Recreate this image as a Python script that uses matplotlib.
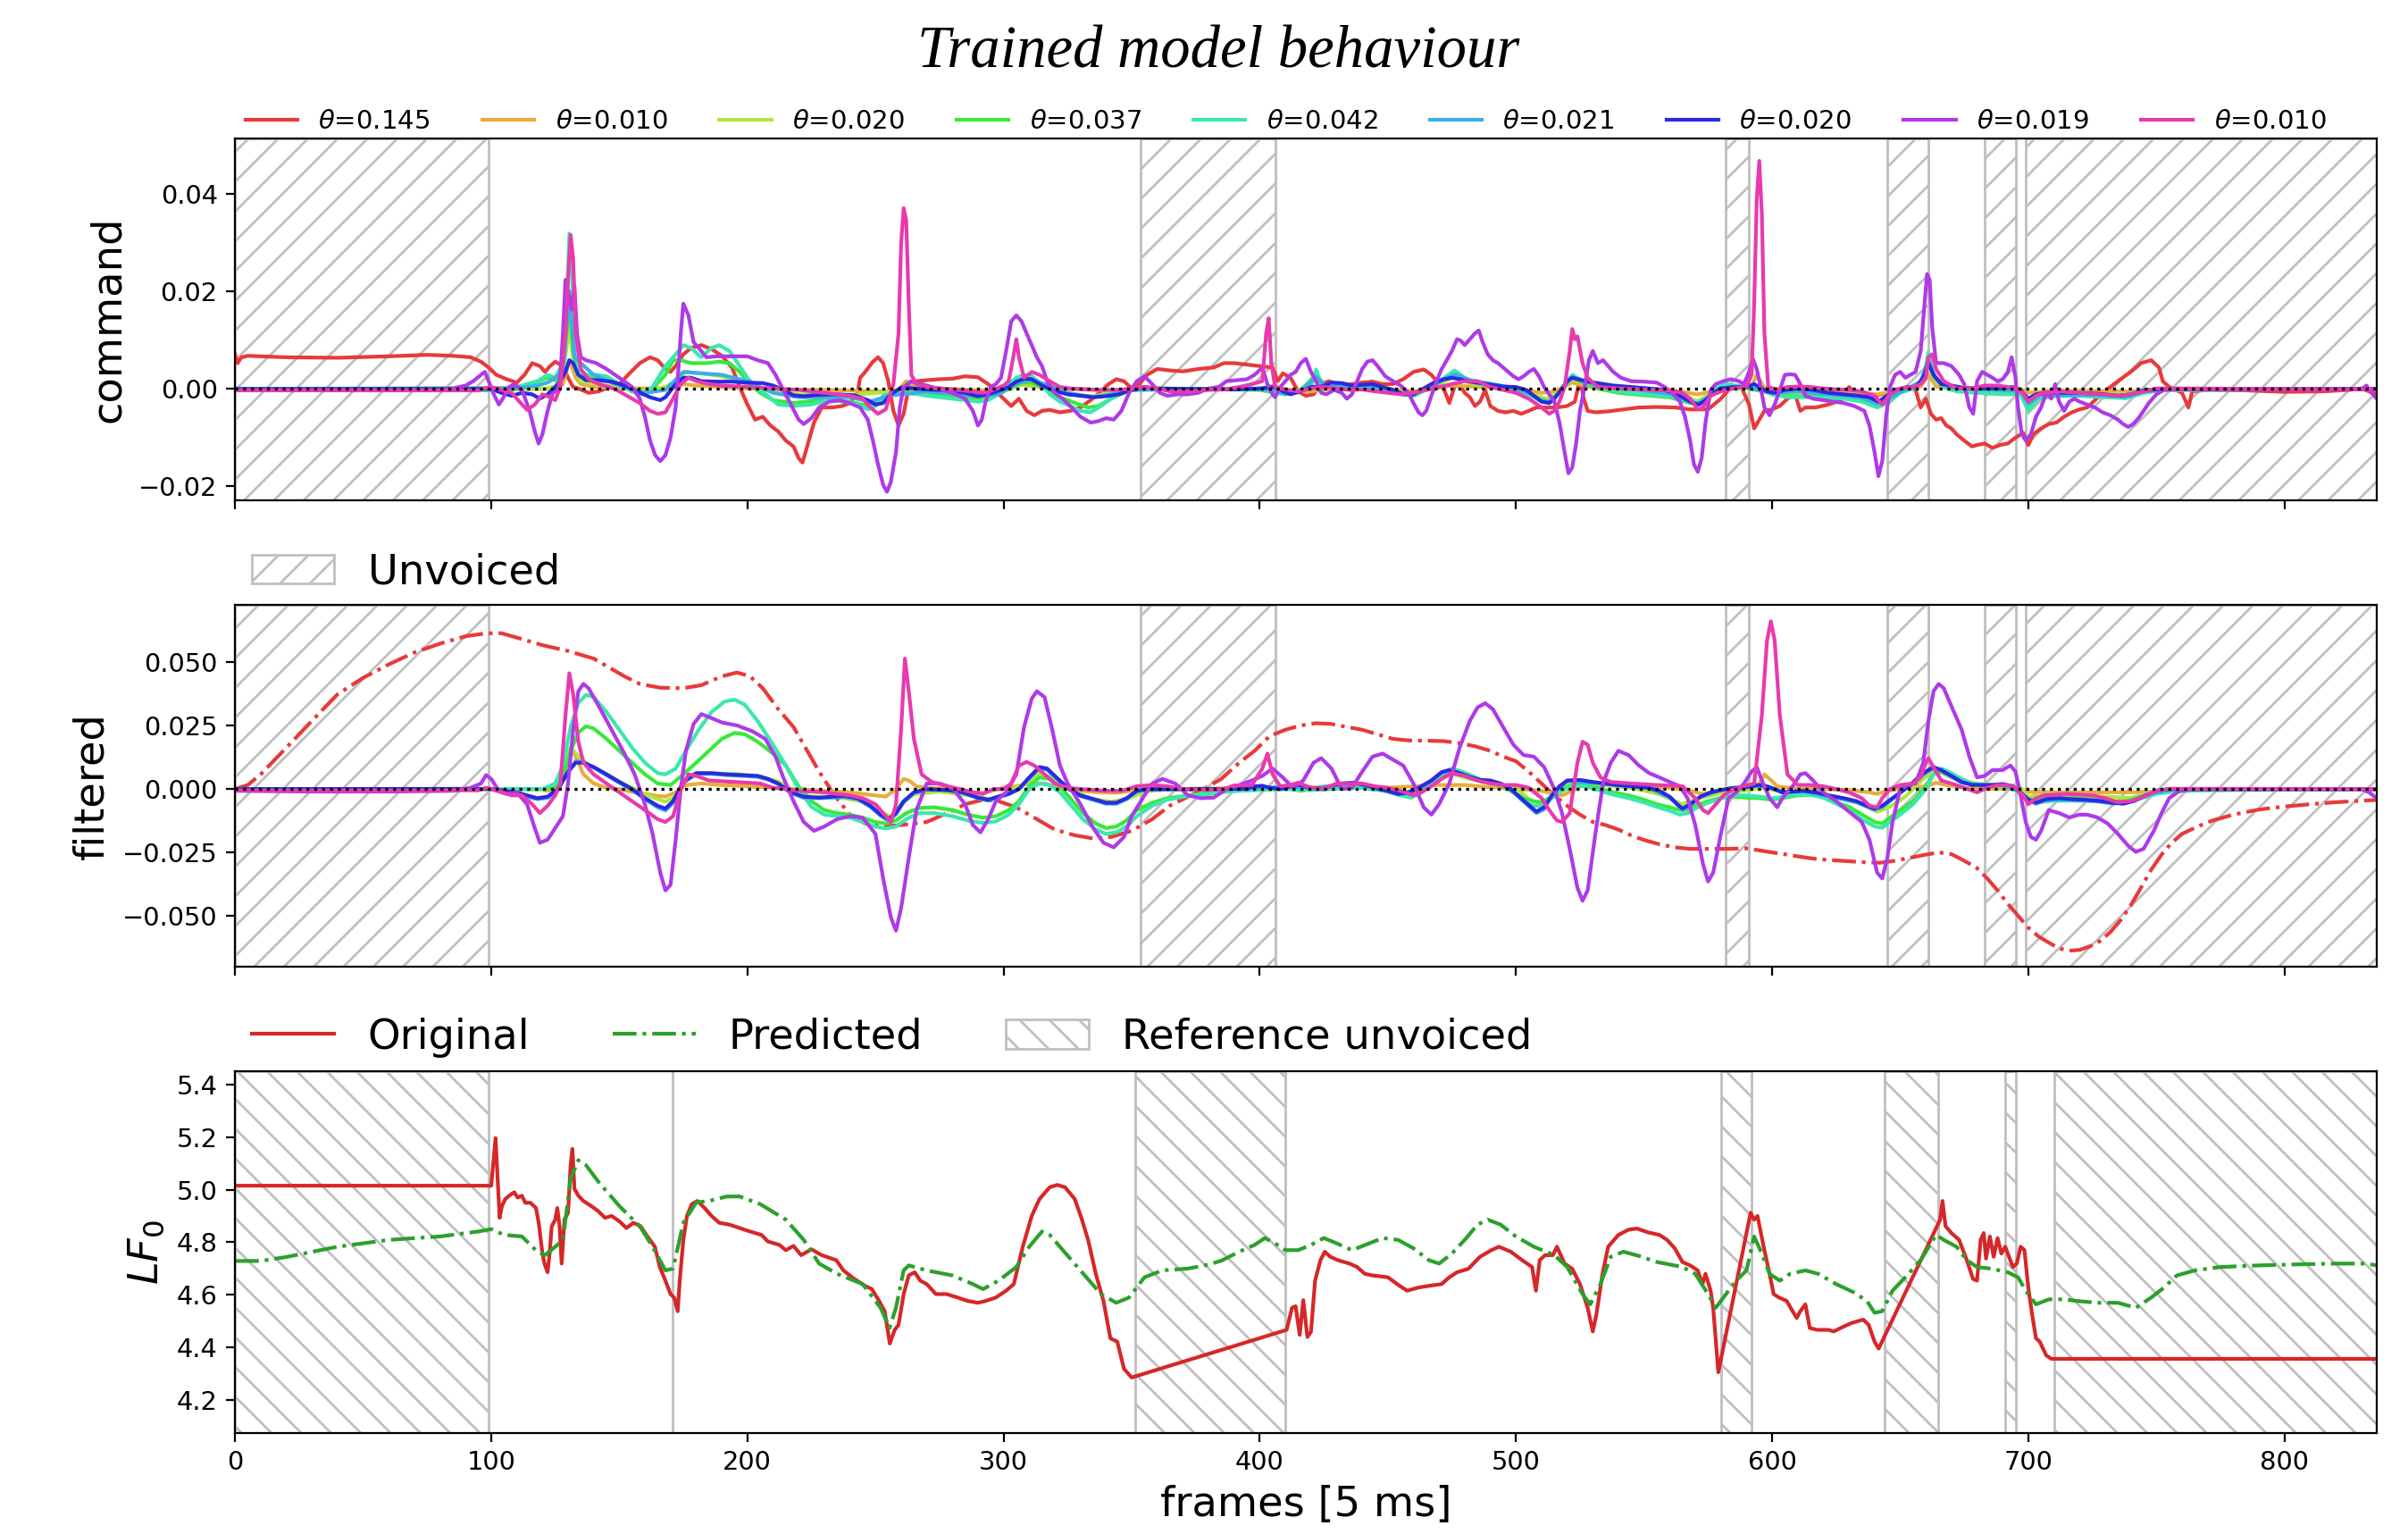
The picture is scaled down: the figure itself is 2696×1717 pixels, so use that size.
import matplotlib
matplotlib.use("Agg")
import matplotlib.pyplot as plt

# Configuration
FRAMES_MAX = 836
THETAS = ["0.145", "0.010", "0.020", "0.037", "0.042", "0.021", "0.020", "0.019", "0.010"]
COLORS = ["#e83a3a", "#e8ae3a", "#aee83a", "#3ae83a", "#3ae8ae",
          "#3aaee8", "#2a2ae0", "#ae3ae8", "#e83aae"]
HATCH_GRAY = "#bfbfbf"

# unvoiced regions (frames)
unvoiced_model = [(0, 99), (353.5, 406), (582, 591), (645, 661), (683, 695), (699, 836)]
unvoiced_ref = [(0, 99), (170.8, 170.85), (351.5, 410), (580, 592), (644, 665), (691, 695), (710, 836)]

# ---- command signals, (frame, value) ----
cmd_red = [(0, 0.0071), (1, 0.0053), (2.5, 0.0065), (5, 0.0068), (20, 0.0065), (40, 0.0064), (60, 0.0067),
           (75, 0.0070), (85, 0.0068), (92, 0.0065), (96, 0.0056), (99, 0.0044), (102, 0.0029), (106, 0.0020),
           (110, 0.0013), (113, 0.0029), (116, 0.0053), (119, 0.0047), (121, 0.0035), (123, 0.0047), (125, 0.0056),
           (128, 0.0047), (130, 0.0023), (132, 0.0004), (134, 0.0001), (138, -0.0008), (142, -0.0005), (146, 0.0004),
           (150, 0.0010), (154, 0.0032), (158, 0.0053), (162, 0.0065), (165, 0.0059), (168, 0.0041), (170, 0.0035),
           (172, 0.0047), (175, 0.0071), (178, 0.0084), (182, 0.0090), (186, 0.0082), (190, 0.0068), (194, 0.0044),
           (197, 0.0004), (200, -0.0032), (203, -0.0063), (206, -0.0057), (209, -0.0075), (212, -0.0087),
           (215, -0.0106), (218, -0.0118), (220, -0.0142), (221.5, -0.0151), (223, -0.0124), (226, -0.0069),
           (229, -0.0038), (233, -0.0038), (237, -0.0035), (240, -0.0029), (243, -0.0008), (244, 0.0023),
           (246, 0.0035), (249, 0.0056), (251, 0.0065), (253, 0.0053), (255, 0.0016), (257, -0.0045),
           (259, -0.0075), (261, -0.0051), (263, 0.0004), (266, 0.0016), (270, 0.0018), (275, 0.0020),
           (280, 0.0021), (285, 0.0026), (290, 0.0024), (294, 0.0010), (297, -0.0005), (300, -0.0020),
           (303, -0.0035), (306, -0.0020), (309, -0.0045), (312, -0.0054), (315, -0.0045), (318, -0.0043),
           (322, -0.0048), (326, -0.0045), (330, -0.0038), (334, -0.0023), (338, -0.0005), (341, 0.0010),
           (344, 0.0020), (347, 0.0016), (350, 0.0001), (353, 0.0010), (356, 0.0029), (360, 0.0041),
           (365, 0.0038), (370, 0.0036), (376, 0.0041), (382, 0.0044), (386, 0.0053), (390, 0.0053),
           (395, 0.0050), (400, 0.0047), (405, 0.0044), (407, 0.0016), (409, 0.0032), (412, 0.0023),
           (415, -0.0005), (418, -0.0014), (421, -0.0011), (424, 0.0010), (427, 0.0016), (430, 0.0010),
           (433, 0.0007), (436, 0.0010), (440, 0.0013), (444, 0.0015), (448, 0.0010), (452, 0.0010),
           (456, 0.0020), (460, 0.0035), (464, 0.0040), (467, 0.0029), (470, 0.0010), (472, -0.0002),
           (474, -0.0029), (476, 0.0004), (478, 0.0010), (480, -0.0008), (482, -0.0017), (484, -0.0035),
           (486, -0.0026), (488, -0.0002), (490, -0.0035), (493, -0.0045), (496, -0.0048), (499, -0.0045),
           (502, -0.0051), (505, -0.0045), (508, -0.0038), (516, -0.0038), (520, -0.0035), (523, -0.0026),
           (525, 0.0020), (526.5, -0.0020), (528, -0.0045), (531, -0.0048), (536, -0.0046), (542, -0.0042),
           (548, -0.0038), (555, -0.0037), (562, -0.0038), (568, -0.0042), (575, -0.0042), (580, -0.0020),
           (584, 0.0004), (588, 0.0004), (591, -0.0032), (593, -0.0081), (595, -0.0063), (597, -0.0045),
           (600, -0.0042), (603, -0.0035), (606, -0.0020), (609, -0.0011), (611, -0.0045), (613, -0.0038),
           (617, -0.0038), (622, -0.0032), (627, -0.0023), (630, 0.0004), (633, -0.0011), (636, -0.0008),
           (640, -0.0014), (645, -0.0008), (650, -0.0005), (653, 0.0004), (656, -0.0002), (658, -0.0038),
           (660, -0.0020), (662, -0.0051), (664, -0.0063), (666, -0.0060), (668, -0.0075), (670, -0.0081),
           (672, -0.0093), (675, -0.0106), (678, -0.0118), (680, -0.0115), (683, -0.0112), (686, -0.0121),
           (689, -0.0115), (692, -0.0112), (695, -0.0100), (698, -0.0090), (700, -0.0115), (702, -0.0093),
           (705, -0.0081), (708, -0.0072), (711, -0.0069), (714, -0.0057), (717, -0.0048), (720, -0.0042),
           (723, -0.0038), (726, -0.0023), (729, -0.0008), (732, 0.0004), (736, 0.0020), (740, 0.0035),
           (744, 0.0053), (748, 0.0059), (751, 0.0044), (752.5, 0.0016), (755, 0.0004), (760, -0.0008),
           (762.5, -0.0038), (764, -0.0005), (770, -0.0002), (785, -0.0003), (800, -0.0006), (815, -0.0005),
           (825, -0.0002), (830, 0.0001), (833, -0.0005), (836, -0.0011)]

cmd_orange = [(0, 0), (125, 0), (128, 0.0010), (130.5, 0.0059), (133, 0.0023), (135, 0.0010), (140, 0.0004),
              (150, 0.0002), (160, 0.0001), (170, 0.0002), (175, 0.0010), (180, 0.0007), (190, 0.0004),
              (200, 0.0001), (215, -0.0001), (230, -0.0002), (245, -0.0004), (255, -0.0005), (259, -0.0002),
              (262, 0.0016), (265, 0.0005), (275, 0.0001), (292, -0.0003), (300, -0.0001), (305, 0.0010),
              (310, 0.0007), (320, 0.0001), (340, -0.0003), (360, -0.0001), (400, 0), (405, 0.0007),
              (410, -0.0003), (420, -0.0005), (430, 0.0002), (445, 0.0003), (460, -0.0005), (475, 0.0007),
              (490, 0.0003), (500, 0), (510, -0.0008), (515, -0.0005), (522, 0.0013), (530, 0.0003),
              (560, -0.0002), (571, -0.0011), (580, -0.0002), (592, 0.0005), (594, 0.0029), (597, 0.0002),
              (610, -0.0002), (641, -0.0011), (650, -0.0003), (658, 0.0005), (661, 0.0029), (664, 0.0005),
              (680, 0.0001), (697, 0), (700, -0.0008), (710, -0.0003), (740, -0.0005), (750, -0.0001), (836, 0)]

cmd_lime = [(0, 0), (120, 0), (125, 0.0005), (128, 0.0029), (130.5, 0.0126), (132.5, 0.0041), (135, 0.0016),
            (145, 0.0007), (160, -0.0004), (168, 0.0004), (172, 0.0016), (176, 0.0035), (182, 0.0032),
            (190, 0.0026), (200, 0.0010), (210, -0.0005), (220, -0.0011), (240, -0.0013), (250, -0.0008),
            (260, -0.0004), (280, -0.0008), (292, -0.0011), (300, -0.0005), (306, 0.0007), (310, 0.0010),
            (316, 0.0004), (326, -0.0011), (335, -0.0015), (342, -0.0008), (350, -0.0001), (386, 0), (400, 0),
            (408, -0.0008), (415, -0.0004), (422, 0.0020), (426, 0.0003), (440, 0.0003), (455, -0.0008),
            (460, -0.0010), (470, 0.0010), (476, 0.0025), (482, 0.0012), (495, 0.0003), (505, -0.0010),
            (512, -0.0020), (516, -0.0010), (522, 0.0020), (530, 0.0005), (550, -0.0008), (565, -0.0015),
            (571, -0.0025), (576, -0.0010), (582, 0.0003), (590, 0.0001), (600, -0.0008), (610, -0.0012),
            (625, -0.0013), (635, -0.0018), (641, -0.0028), (646, -0.0015), (652, -0.0002), (658, 0.0015),
            (661, 0.0050), (664, 0.0015), (670, -0.0002), (690, -0.0004), (697, -0.0005), (700, -0.0030),
            (705, -0.0012), (730, -0.0012), (740, -0.0010), (750, -0.0002), (836, 0)]

cmd_green = [(0, 0), (110, 0), (114, 0.0007), (122, 0.0023), (126, 0.0016), (128.5, 0.0065), (130.5, 0.0175),
             (132, 0.0078), (134, 0.0029), (140, 0.0023), (150, 0.0010), (155, -0.0005), (159, -0.0011),
             (163, 0.0001), (168, 0.0029), (171, 0.0059), (174, 0.0059), (178, 0.0053), (184, 0.0053),
             (189, 0.0056), (193, 0.0053), (197, 0.0035), (201, 0.0010), (205, -0.0008), (210, -0.0023),
             (218, -0.0029), (228, -0.0023), (240, -0.0026), (247, -0.0035), (252, -0.0023), (258, -0.0008),
             (270, -0.0011), (285, -0.0017), (292, -0.0020), (298, -0.0011), (303, 0.0004), (307, 0.0013),
             (311, 0.0013), (316, 0.0001), (322, -0.0017), (328, -0.0029), (333, -0.0038), (337, -0.0035),
             (342, -0.0020), (348, -0.0005), (355, 0.0001), (386, 0), (395, 0), (400, -0.0002), (406, -0.0008),
             (410, -0.0011), (416, -0.0003), (422, 0.0030), (426, 0.0003), (440, 0.0001), (450, -0.0005),
             (456, -0.0011), (460, -0.0014), (466, 0.0001), (472, 0.0020), (476, 0.0032), (480, 0.0020),
             (486, 0.0010), (492, 0.0004), (500, -0.0001), (505, -0.0011), (510, -0.0023), (513, -0.0026),
             (517, -0.0008), (520, 0.0013), (522, 0.0025), (526, 0.0013), (532, 0.0001), (540, -0.0008),
             (550, -0.0013), (560, -0.0017), (566, -0.0026), (571, -0.0032), (574, -0.0023), (578, 0),
             (582, 0.0008), (590, 0.0002), (596, -0.0003), (600, -0.0011), (606, -0.0015), (620, -0.0015),
             (628, -0.0018), (635, -0.0023), (641, -0.0032), (645, -0.0023), (650, -0.0005), (655, 0.0003),
             (659, 0.0016), (661, 0.0065), (663, 0.0025), (667, 0.0004), (672, -0.0003), (690, -0.0008),
             (697, -0.0008), (700, -0.0038), (704, -0.0017), (710, -0.0014), (720, -0.0013), (730, -0.0016),
             (738, -0.0018), (745, -0.0008), (752, -0.0002), (836, 0)]

cmd_teal = [(0, 0), (104, -0.0003), (110, 0.0004), (114, 0.0010), (118, 0.0016), (122, 0.0029), (125, 0.0023),
            (128, 0.0053), (129.5, 0.0175), (130.5, 0.0319), (131.5, 0.0236), (132.5, 0.0096), (134, 0.0041),
            (137, 0.0029), (141, 0.0029), (145, 0.0026), (150, 0.0010), (155, -0.0005), (159, -0.0011),
            (163, 0.0004), (168, 0.0047), (172, 0.0071), (175, 0.0090), (178, 0.0084), (182, 0.0065),
            (186, 0.0084), (189, 0.0090), (193, 0.0078), (197, 0.0047), (200, 0.0023), (204, 0.0001),
            (208, -0.0014), (212, -0.0032), (218, -0.0035), (225, -0.0032), (232, -0.0023), (238, -0.0026),
            (243, -0.0032), (247, -0.0042), (250, -0.0035), (253, -0.0014), (258, -0.0005), (264, -0.0008),
            (270, -0.0014), (280, -0.0020), (290, -0.0026), (294, -0.0023), (298, -0.0011), (302, 0.0010),
            (305, 0.0023), (308, 0.0029), (311, 0.0026), (315, 0.0010), (318, -0.0011), (322, -0.0026),
            (326, -0.0035), (330, -0.0045), (334, -0.0048), (338, -0.0035), (342, -0.0020), (346, -0.0008),
            (350, 0.0001), (355, 0.0004), (360, 0.0001), (386, -0.0001), (400, -0.0002), (406, -0.0005),
            (410, -0.0011), (416, -0.0002), (420, 0.0004), (422, 0.0040), (424, 0.0010), (430, -0.0002),
            (440, 0.0001), (450, -0.0005), (456, -0.0011), (460, -0.0014), (466, 0.0004), (472, 0.0023),
            (476, 0.0038), (480, 0.0023), (486, 0.0010), (492, 0.0004), (500, -0.0001), (505, -0.0011),
            (510, -0.0026), (513, -0.0029), (517, -0.0008), (520, 0.0016), (522, 0.0029), (526, 0.0016),
            (532, 0.0004), (540, -0.0005), (550, -0.0011), (560, -0.0015), (566, -0.0023), (571, -0.0029),
            (574, -0.0020), (578, 0.0001), (582, 0.0010), (590, 0.0004), (596, -0.0002), (600, -0.0011),
            (606, -0.0017), (620, -0.0017), (628, -0.0020), (635, -0.0026), (641, -0.0038), (645, -0.0029),
            (650, -0.0008), (655, 0.0001), (659, 0.0016), (661, 0.0075), (663, 0.0029), (667, 0.0004),
            (672, -0.0005), (680, -0.0008), (690, -0.0011), (697, -0.0011), (700, -0.0045), (704, -0.0020),
            (710, -0.0015), (720, -0.0014), (730, -0.0017), (738, -0.0019), (745, -0.0008), (752, -0.0002),
            (836, 0)]

cmd_lightblue = [(0, 0), (110, 0.0002), (114, 0.0004), (118, 0.0007), (122, 0.0013), (128, 0.0035),
                 (130.5, 0.0200), (132.5, 0.0065), (135, 0.0053), (140, 0.0029), (150, 0.0007), (160, -0.0008),
                 (168, -0.0002), (175, 0.0035), (182, 0.0032), (190, 0.0029), (200, 0.0016), (210, -0.0008),
                 (220, -0.0017), (240, -0.0017), (248, -0.0026), (255, -0.0014), (270, -0.0005), (290, -0.0014),
                 (298, -0.0011), (305, 0.0010), (310, 0.0020), (316, 0.0010), (325, -0.0008), (335, -0.0017),
                 (342, -0.0011), (350, -0.0002), (386, 0), (400, 0), (406, -0.0003), (410, -0.0010),
                 (416, -0.0004), (422, 0.0025), (426, 0.0005), (440, 0.0008), (450, -0.0003), (460, -0.0012),
                 (466, 0.0002), (472, 0.0020), (476, 0.0030), (482, 0.0018), (495, 0.0006), (505, -0.0008),
                 (510, -0.0024), (513, -0.0027), (517, -0.0008), (522, 0.0025), (530, 0.0010), (545, 0),
                 (560, -0.0010), (566, -0.0022), (571, -0.0030), (575, -0.0018), (580, 0.0002), (590, 0.0003),
                 (600, -0.0008), (610, -0.0005), (625, -0.0012), (635, -0.0018), (641, -0.0030), (646, -0.0018),
                 (652, -0.0002), (658, 0.0015), (661, 0.0060), (664, 0.0020), (670, 0.0002), (690, -0.0002),
                 (697, -0.0004), (700, -0.0030), (705, -0.0012), (730, -0.0013), (738, -0.0016), (745, -0.0006),
                 (752, -0.0001), (836, 0)]

cmd_blue = [(0, 0), (100, 0), (104, -0.0008), (108, -0.0014), (112, -0.0008), (116, -0.0011), (119, -0.0020),
            (122, -0.0011), (125, 0.0004), (127, 0.0016), (129, 0.0035), (130.5, 0.0059), (132, 0.0053),
            (134, 0.0029), (137, 0.0018), (142, 0.0018), (147, 0.0015), (152, 0.0007), (157, -0.0005),
            (162, -0.0017), (166, -0.0023), (168, -0.0017), (172, 0.0010), (175, 0.0023), (178, 0.0023),
            (182, 0.0016), (188, 0.0015), (194, 0.0015), (200, 0.0013), (206, 0.0012), (210, 0.0007),
            (214, -0.0002), (218, -0.0013), (222, -0.0015), (228, -0.0012), (235, -0.0011), (242, -0.0013),
            (247, -0.0023), (250, -0.0032), (253, -0.0029), (256, -0.0011), (260, 0.0003), (265, 0.0001),
            (270, -0.0001), (278, -0.0003), (285, -0.0008), (290, -0.0015), (294, -0.0011), (298, -0.0004),
            (302, 0.0004), (305, 0.0015), (308, 0.0021), (311, 0.0020), (315, 0.0007), (320, -0.0004),
            (325, -0.0011), (330, -0.0014), (335, -0.0017), (340, -0.0015), (345, -0.0011), (350, -0.0002),
            (355, 0.0004), (360, 0.0001), (386, -0.0001), (390, -0.0001), (400, 0.0001), (406, 0.0004),
            (409, -0.0005), (412, -0.0011), (416, -0.0005), (420, 0.0004), (424, 0.0005), (428, 0.0013),
            (432, 0.0012), (436, 0.0007), (444, 0.0010), (448, 0.0004), (452, -0.0002), (456, -0.0011),
            (460, -0.0011), (464, 0.0001), (468, 0.0013), (472, 0.0020), (475, 0.0023), (478, 0.0020),
            (482, 0.0015), (486, 0.0012), (490, 0.0009), (495, 0.0005), (500, 0.0004), (504, -0.0002),
            (507, -0.0014), (510, -0.0026), (513, -0.0029), (515, -0.0020), (518, 0.0001), (520, 0.0016),
            (522, 0.0023), (524, 0.0020), (528, 0.0015), (532, 0.0012), (538, 0.0007), (545, 0.0004),
            (552, 0.0001), (558, -0.0002), (563, -0.0011), (566, -0.0020), (569, -0.0029), (571.5, -0.0032),
            (574, -0.0023), (577, -0.0008), (580, 0.0001), (585, 0.0004), (590, 0.0004), (593, 0.0010),
            (595, 0.0004), (598, -0.0005), (601, -0.0008), (605, -0.0002), (610, 0.0001), (616, -0.0002),
            (622, -0.0008), (628, -0.0011), (634, -0.0014), (638, -0.0017), (641.5, -0.0026), (644, -0.0017),
            (648, -0.0002), (652, 0.0003), (656, 0.0004), (659, 0.0023), (661, 0.0053), (663, 0.0029),
            (666, 0.0010), (670, 0.0007), (675, 0.0002), (680, 0.0001), (688, 0.0001), (694, 0.0004),
            (697, -0.0002), (700, -0.0020), (703, -0.0011), (707, -0.0008), (720, -0.0008), (728, -0.0010),
            (735, -0.0014), (740, -0.0011), (745, -0.0003), (750, -0.0001), (836, 0)]

cmd_purple = [(0, -0.0002), (80, -0.0002), (85, 0.0001), (90, 0.0007), (93, 0.0016), (96, 0.0029),
              (97.5, 0.0035), (99, 0.0016), (101, -0.0011), (103, -0.0032), (104.5, -0.0020), (107, 0.0004),
              (109, 0.0010), (112, -0.0002), (115, -0.0045), (117, -0.0087), (118.5, -0.0112), (120, -0.0093),
              (122, -0.0045), (124, -0.0008), (126, -0.0002), (127, 0.0029), (128, 0.0114), (129, 0.0224),
              (130, 0.0200), (131.5, 0.0163), (132.5, 0.0212), (133.5, 0.0114), (135, 0.0065), (137, 0.0059),
              (141, 0.0053), (145, 0.0041), (150, 0.0023), (155, 0.0004), (158, -0.0020), (160, -0.0057),
              (162, -0.0106), (164, -0.0136), (166, -0.0148), (168, -0.0136), (170, -0.0100), (172, -0.0038),
              (173, 0.0035), (174, 0.0114), (175, 0.0175), (177, 0.0151), (179, 0.0096), (181, 0.0084),
              (184, 0.0065), (188, 0.0067), (194, 0.0067), (200, 0.0067), (204, 0.0059), (208, 0.0053),
              (211, 0.0029), (214, -0.0002), (217, -0.0032), (220, -0.0063), (222, -0.0072), (225, -0.0060),
              (228, -0.0038), (232, -0.0026), (236, -0.0023), (240, -0.0029), (244, -0.0038), (247, -0.0063),
              (249, -0.0106), (251, -0.0155), (253, -0.0197), (254.5, -0.0211), (256, -0.0191), (258, -0.0130),
              (259.5, -0.0038), (261, 0.0004), (264, 0.0016), (268, 0.0010), (272, 0.0004), (276, -0.0002),
              (280, -0.0008), (285, -0.0020), (288, -0.0045), (290, -0.0075), (291.5, -0.0063), (293, -0.0026),
              (295, 0.0004), (297, 0.0010), (299, 0.0023), (301, 0.0078), (303, 0.0139), (305, 0.0151),
              (307, 0.0139), (309, 0.0114), (311, 0.0090), (313, 0.0065), (315, 0.0047), (317, 0.0016),
              (320, -0.0008), (323, -0.0020), (326, -0.0035), (330, -0.0057), (334, -0.0069), (337, -0.0066),
              (340, -0.0060), (343, -0.0063), (346, -0.0045), (349, -0.0008), (352, 0.0016), (355, 0.0026),
              (358, 0.0010), (361, -0.0008), (364, -0.0014), (368, -0.0011), (372, -0.0011), (376, -0.0008),
              (380, 0.0001), (384, 0.0004), (387, 0.0016), (391, 0.0018), (395, 0.0020), (398, 0.0029),
              (401, 0.0044), (403, 0.0010), (405, -0.0011), (406, -0.0017), (408, 0.0004), (410, 0.0016),
              (412, 0.0029), (414, 0.0035), (416, 0.0053), (418, 0.0062), (420, 0.0035), (422, 0.0016),
              (424, -0.0008), (426, -0.0011), (429, -0.0002), (432, -0.0008), (434, -0.0020), (436, -0.0011),
              (438, 0.0016), (440, 0.0041), (442, 0.0056), (444, 0.0059), (446, 0.0047), (449, 0.0026),
              (452, 0.0016), (455, 0.0007), (458, -0.0008), (460, -0.0029), (462, -0.0048), (463.5, -0.0054),
              (465, -0.0045), (467, -0.0014), (469, 0.0016), (471, 0.0041), (473, 0.0059), (475, 0.0078),
              (477, 0.0102), (478.5, 0.0099), (480, 0.0090), (482, 0.0102), (484, 0.0114), (485.5, 0.0120),
              (487, 0.0096), (489, 0.0071), (491, 0.0059), (493, 0.0053), (495, 0.0044), (497, 0.0035),
              (499, 0.0026), (501, 0.0020), (503, 0.0026), (505, 0.0035), (507, 0.0041), (509, 0.0026),
              (511, 0.0004), (513, -0.0011), (515, -0.0026), (517, -0.0069), (519, -0.0130), (520.5, -0.0173),
              (522, -0.0161), (523.5, -0.0112), (525, -0.0045), (527, 0.0010), (528.5, 0.0059), (530, 0.0078),
              (532, 0.0053), (534, 0.0059), (536, 0.0047), (538, 0.0035), (541, 0.0023), (545, 0.0016),
              (550, 0.0015), (555, 0.0013), (558, 0.0004), (561, -0.0008), (564, -0.0026), (566, -0.0057),
              (568, -0.0106), (569.5, -0.0155), (571, -0.0170), (572.5, -0.0142), (574, -0.0069), (576, -0.0002),
              (578, 0.0010), (581, 0.0016), (584, 0.0020), (587, 0.0016), (589, 0.0010), (591, 0.0035),
              (592.5, 0.0062), (594, 0.0041), (595.5, 0.0004), (597, -0.0038), (599, -0.0054), (601, -0.0032),
              (603, -0.0002), (605, 0.0029), (607, 0.0030), (609, 0.0029), (611, 0.0010), (613, -0.0014),
              (616, -0.0020), (620, -0.0023), (624, -0.0026), (628, -0.0029), (632, -0.0035), (636, -0.0045),
              (638, -0.0075), (640, -0.0130), (641.5, -0.0179), (643, -0.0148), (644.5, -0.0057), (646, 0.0004),
              (648, 0.0029), (650, 0.0035), (652, 0.0023), (654, 0.0029), (656, 0.0035), (658, 0.0078),
              (659.5, 0.0175), (660.5, 0.0236), (661.5, 0.0224), (662.5, 0.0126), (664, 0.0053), (667, 0.0053),
              (670, 0.0047), (673, 0.0029), (675, 0.0010), (677, -0.0038), (678.5, -0.0051), (680, 0.0016),
              (682, 0.0035), (684, 0.0029), (686, 0.0023), (688, 0.0016), (690, 0.0020), (692, 0.0035),
              (693.5, 0.0065), (695, 0.0023), (696, -0.0038), (697.5, -0.0093), (699, -0.0106), (701, -0.0093),
              (703, -0.0057), (705, -0.0038), (707, -0.0008), (709, -0.0020), (710.5, 0.0010), (712, -0.0026),
              (714, -0.0045), (716, -0.0026), (718, -0.0020), (720, -0.0026), (723, -0.0032), (726, -0.0038),
              (729, -0.0048), (732, -0.0054), (735, -0.0063), (737, -0.0072), (739, -0.0078), (741, -0.0072),
              (743, -0.0060), (745, -0.0045), (747, -0.0029), (750, -0.0011), (753, -0.0002), (757, -0.0001),
              (830, -0.0001), (832, 0.0007), (834, -0.0008), (836, -0.0020)]

cmd_pink = [(0, -0.0003), (95, -0.0003), (97, 0.0001), (100, 0.0004), (104, -0.0002), (108, -0.0008),
            (111, -0.0026), (114, -0.0043), (117, -0.0032), (120, -0.0011), (123, -0.0017), (125, -0.0023),
            (127, 0.0004), (129, 0.0114), (130, 0.0224), (131, 0.0316), (132, 0.0267), (133, 0.0114),
            (135, 0.0041), (138, 0.0020), (142, 0.0010), (146, 0.0004), (150, -0.0005), (154, -0.0017),
            (158, -0.0029), (162, -0.0045), (165, -0.0051), (168, -0.0048), (171, -0.0020), (174, 0.0010),
            (177, 0.0023), (180, 0.0016), (185, 0.0010), (190, 0.0007), (200, 0.0004), (210, 0.0001),
            (220, -0.0002), (230, -0.0008), (240, -0.0014), (245, -0.0020), (248, -0.0038), (251, -0.0051),
            (254, -0.0042), (257, 0.0010), (259, 0.0114), (260, 0.0297), (261, 0.0371), (262, 0.0346),
            (263, 0.0175), (264, 0.0029), (266, 0.0010), (270, 0.0004), (276, 0.0001), (282, -0.0002),
            (288, -0.0005), (292, -0.0008), (296, -0.0002), (300, 0.0007), (302, 0.0016), (304, 0.0071),
            (305, 0.0102), (306, 0.0065), (308, 0.0023), (311, 0.0035), (314, 0.0029), (318, 0.0016),
            (322, 0.0004), (326, 0.0001), (330, 0), (338, -0.0002), (345, -0.0002), (350, 0.0001),
            (355, 0.0004), (360, 0.0001), (365, -0.0005), (372, -0.0005), (380, -0.0002), (386, -0.0001),
            (392, 0.0004), (397, 0.0010), (401, 0.0016), (402.5, 0.0114), (403.5, 0.0145), (404.5, 0.0053),
            (406, 0.0004), (410, -0.0001), (415, -0.0005), (420, 0.0001), (425, 0.0004), (430, 0.0001),
            (435, -0.0002), (440, -0.0001), (445, -0.0005), (450, -0.0008), (455, -0.0011), (460, -0.0008),
            (465, -0.0002), (470, 0.0004), (475, 0.0010), (480, 0.0016), (485, 0.0016), (490, 0.0004),
            (495, -0.0002), (500, -0.0008), (505, -0.0020), (510, -0.0038), (513, -0.0051), (515, -0.0045),
            (517, -0.0026), (519, 0.0004), (521, 0.0078), (522, 0.0123), (523, 0.0102), (524, 0.0108),
            (526, 0.0053), (528, 0.0023), (532, 0.0004), (540, 0.0001), (550, -0.0001), (560, -0.0003),
            (565, -0.0008), (568, -0.0020), (571, -0.0042), (573, -0.0038), (576, -0.0014), (580, -0.0005),
            (585, 0.0001), (590, 0.0005), (592, 0.0029), (593, 0.0175), (594, 0.0389), (595, 0.0468),
            (596, 0.0358), (597, 0.0114), (598.5, 0.0004), (602, -0.0002), (606, 0.0004), (610, 0.0005),
            (615, 0.0004), (620, 0.0001), (625, -0.0001), (630, -0.0002), (635, -0.0005), (640, -0.0014),
            (643, -0.0032), (646, -0.0011), (650, 0.0001), (655, 0.0004), (658, 0.0010), (660, 0.0023),
            (661, 0.0065), (662.5, 0.0071), (664, 0.0041), (667, 0.0016), (672, 0.0001), (678, 0.0001),
            (683, 0.0007), (688, 0.0007), (692, 0.0004), (695, 0.0001), (698, -0.0008), (700, -0.0026),
            (703, -0.0014), (706, -0.0008), (712, -0.0005), (720, -0.0008), (728, -0.0011), (735, -0.0014),
            (740, -0.0011), (745, -0.0005), (750, 0.0001), (760, 0.0001), (836, -0.0001)]

# ---- filtered signals, (frame, value) ----
filt_red = [(0, 0), (5, 0.0016), (10, 0.0058), (20, 0.0163), (30, 0.0269), (40, 0.0374), (50, 0.0439),
            (60, 0.0492), (70, 0.0539), (80, 0.0574), (90, 0.0603), (98, 0.0615), (104, 0.0615), (112, 0.0592),
            (120, 0.0568), (130, 0.0545), (140, 0.0515), (146, 0.0480), (152, 0.0445), (158, 0.0415),
            (166, 0.0400), (175, 0.0398), (182, 0.0410), (190, 0.0445), (196, 0.0460), (201, 0.0445),
            (206, 0.0398), (212, 0.0316), (218, 0.0245), (222, 0.0175), (228, 0.0069), (234, -0.0025),
            (240, -0.0101), (246, -0.0136), (252, -0.0148), (260, -0.0142), (270, -0.0130), (278, -0.0095),
            (285, -0.0060), (292, -0.0042), (298, -0.0048), (305, -0.0072), (312, -0.0113), (320, -0.0160),
            (328, -0.0183), (335, -0.0195), (342, -0.0189), (350, -0.0165), (358, -0.0119), (365, -0.0065),
            (372, -0.0030), (378, 0.0), (385, 0.0040), (392, 0.0104), (398, 0.0151), (404, 0.0210),
            (410, 0.0234), (416, 0.0251), (422, 0.0260), (428, 0.0257), (434, 0.0245), (440, 0.0234),
            (446, 0.0216), (452, 0.0198), (458, 0.0192), (465, 0.0191), (472, 0.0189), (478, 0.0181),
            (484, 0.0169), (490, 0.0151), (495, 0.0128), (500, 0.0110), (505, 0.0069), (510, 0.0022),
            (515, -0.0025), (520, -0.0066), (525, -0.0101), (530, -0.0130), (535, -0.0142), (540, -0.0160),
            (545, -0.0183), (550, -0.0201), (556, -0.0218), (562, -0.0230), (568, -0.0236), (575, -0.0236),
            (582, -0.0236), (590, -0.0234), (595, -0.0242), (600, -0.0250), (606, -0.0259), (612, -0.0269),
            (618, -0.0277), (624, -0.0281), (630, -0.0285), (636, -0.0289), (642, -0.0291), (648, -0.0283),
            (654, -0.0271), (660, -0.0259), (665, -0.0250), (670, -0.0257), (675, -0.0283), (680, -0.0312),
            (684, -0.0353), (688, -0.0400), (692, -0.0453), (696, -0.0500), (700, -0.0547), (704, -0.0582),
            (708, -0.0606), (712, -0.0629), (716, -0.0638), (720, -0.0635), (724, -0.0621), (728, -0.0600),
            (732, -0.0565), (736, -0.0518), (740, -0.0459), (744, -0.0389), (748, -0.0318), (752, -0.0259),
            (756, -0.0212), (760, -0.0177), (766, -0.0148), (772, -0.0124), (780, -0.0101), (790, -0.0081),
            (800, -0.0069), (810, -0.0060), (820, -0.0052), (830, -0.0046), (836, -0.0043)]

filt_orange = [(0, 0), (120, 0), (122, -0.0007), (126, 0), (129, 0.0116), (131, 0.0163), (133, 0.0128),
               (136, 0.0058), (140, 0.0022), (145, 0.0005), (150, 0), (155, -0.0011), (160, -0.0019),
               (165, -0.0027), (168, -0.0030), (172, -0.0013), (176, 0.0016), (182, 0.0022), (190, 0.0016),
               (200, 0.0011), (210, 0.0005), (220, 0), (230, -0.0007), (240, -0.0013), (250, -0.0025),
               (254, -0.0030), (258, 0), (261, 0.0040), (263, 0.0034), (266, 0.0011), (270, 0.0005), (280, 0),
               (288, -0.0013), (292, -0.0015), (300, 0.0005), (305, 0.0011), (310, 0.0022), (316, 0.0022),
               (322, 0.0005), (330, -0.0007), (338, -0.0013), (344, -0.0015), (350, -0.0007), (360, 0),
               (400, 0.0005), (450, 0.0005), (460, 0.0011), (470, 0.0016), (480, 0.0016), (490, 0.0007),
               (500, 0.0001), (510, -0.0007), (515, -0.0019), (518, -0.0025), (522, -0.0007), (526, 0.0016),
               (530, 0.0022), (540, 0.0016), (550, 0.0011), (560, 0.0005), (568, -0.0007), (573, -0.0019),
               (577, -0.0013), (582, 0), (590, 0.0005), (595, 0.0022), (597, 0.0058), (599, 0.0040),
               (602, 0.0011), (610, 0.0001), (620, 0), (630, -0.0004), (638, -0.0013), (641, -0.0019),
               (645, -0.0007), (650, 0.0001), (660, 0.0011), (664, 0.0025), (668, 0.0016), (675, 0.0005),
               (685, 0.0001), (695, 0.0001), (700, -0.0011), (710, -0.0013), (740, -0.0013), (748, -0.0011),
               (755, -0.0004), (836, 0)]

filt_lime = [(0, 0), (120, 0), (125, 0.0005), (128, 0.0060), (131, 0.0165), (134, 0.0130), (138, 0.0095),
             (145, 0.0060), (150, 0.0030), (155, 0.0005), (160, -0.0020), (165, -0.0040), (168, -0.0050),
             (172, -0.0030), (176, 0.0040), (182, 0.0060), (195, 0.0060), (205, 0.0050), (212, 0.0030),
             (218, -0.0010), (225, -0.0030), (235, -0.0030), (245, -0.0050), (252, -0.0090), (256, -0.0110),
             (260, -0.0060), (265, -0.0020), (275, -0.0010), (290, -0.0030), (295, -0.0040), (300, -0.0020),
             (310, 0.0030), (314, 0.0060), (318, 0.0050), (325, 0), (335, -0.0040), (342, -0.0050),
             (348, -0.0040), (355, -0.0010), (365, 0), (410, 0), (420, 0.0005), (430, 0.0015), (440, 0.0010),
             (455, -0.0015), (460, -0.0015), (470, 0.0045), (475, 0.0060), (482, 0.0040), (490, 0.0025),
             (500, 0.0005), (505, -0.0040), (510, -0.0060), (514, -0.0030), (520, 0.0025), (530, 0.0020),
             (545, 0.0005), (556, -0.0020), (565, -0.0060), (570, -0.0040), (580, -0.0015), (590, -0.0005),
             (595, 0.0005), (605, -0.0010), (615, -0.0010), (625, -0.0030), (635, -0.0060), (641, -0.0090),
             (646, -0.0070), (652, -0.0030), (660, 0.0050), (664, 0.0075), (670, 0.0045), (680, 0.0020),
             (690, 0.0015), (697, 0.0005), (700, -0.0030), (710, -0.0025), (730, -0.0030), (740, -0.0035),
             (750, -0.0010), (760, 0), (836, 0)]

filt_green = [(0, 0), (120, 0), (125, 0.0011), (128, 0.0046), (131, 0.0151), (134, 0.0222), (137, 0.0248),
              (140, 0.0239), (145, 0.0198), (150, 0.0151), (155, 0.0104), (160, 0.0058), (165, 0.0022),
              (170, 0.0016), (175, 0.0058), (180, 0.0104), (185, 0.0151), (190, 0.0198), (195, 0.0222),
              (199, 0.0216), (204, 0.0187), (210, 0.0140), (215, 0.0093), (220, 0.0011), (225, -0.0048),
              (230, -0.0083), (235, -0.0095), (240, -0.0101), (245, -0.0113), (250, -0.0130), (254, -0.0136),
              (258, -0.0124), (262, -0.0095), (267, -0.0075), (273, -0.0072), (280, -0.0083), (286, -0.0101),
              (292, -0.0113), (297, -0.0107), (302, -0.0083), (306, -0.0048), (310, 0.0011), (314, 0.0046),
              (318, 0.0040), (322, 0.0011), (326, -0.0036), (331, -0.0095), (336, -0.0136), (340, -0.0154),
              (344, -0.0148), (348, -0.0124), (352, -0.0083), (358, -0.0054), (364, -0.0036), (372, -0.0025),
              (380, -0.0015), (392, -0.0001), (400, 0.0001), (408, 0.0005), (412, 0), (416, -0.0007), (420, 0),
              (428, 0.0005), (435, 0.0005), (440, 0.0011), (445, 0.0001), (450, -0.0007), (455, -0.0019),
              (459, -0.0025), (463, -0.0007), (467, 0.0022), (471, 0.0058), (475, 0.0069), (479, 0.0058),
              (483, 0.0040), (487, 0.0028), (491, 0.0022), (495, 0.0011), (499, -0.0013), (503, -0.0036),
              (507, -0.0048), (510, -0.0052), (514, -0.0030), (518, 0), (522, 0.0016), (527, 0.0016),
              (532, 0.0005), (538, -0.0013), (544, -0.0025), (550, -0.0042), (555, -0.0060), (560, -0.0072),
              (564, -0.0083), (567, -0.0081), (570, -0.0066), (575, -0.0048), (580, -0.0034), (585, -0.0030),
              (590, -0.0034), (595, -0.0036), (600, -0.0042), (605, -0.0034), (610, -0.0025), (615, -0.0022),
              (620, -0.0030), (625, -0.0052), (630, -0.0070), (635, -0.0100), (640, -0.0130), (643, -0.0136),
              (646, -0.0113), (650, -0.0083), (655, -0.0048), (660, 0.0011), (663, 0.0058), (666, 0.0069),
              (670, 0.0052), (674, 0.0034), (678, 0.0022), (684, 0.0016), (690, 0.0016), (694, 0.0011),
              (697, -0.0019), (700, -0.0041), (704, -0.0041), (710, -0.0036), (718, -0.0036), (725, -0.0042),
              (733, -0.0049), (738, -0.0048), (744, -0.0030), (750, -0.0015), (756, -0.0008), (765, -0.0004),
              (780, -0.0001), (836, 0)]

filt_teal = [(0, 0), (120, 0), (125, 0.0022), (128, 0.0093), (131, 0.0245), (134, 0.0339), (137, 0.0372),
             (140, 0.0363), (145, 0.0304), (150, 0.0234), (155, 0.0163), (160, 0.0104), (165, 0.0063),
             (168, 0.0058), (172, 0.0081), (176, 0.0151), (181, 0.0234), (186, 0.0304), (191, 0.0345),
             (195, 0.0353), (199, 0.0333), (204, 0.0269), (210, 0.0175), (215, 0.0093), (220, 0),
             (225, -0.0070), (230, -0.0101), (235, -0.0107), (240, -0.0113), (245, -0.0130), (250, -0.0148),
             (254, -0.0156), (258, -0.0148), (262, -0.0119), (267, -0.0095), (273, -0.0095), (280, -0.0107),
             (286, -0.0124), (292, -0.0134), (297, -0.0128), (302, -0.0101), (306, -0.0060), (310, 0),
             (314, 0.0022), (318, 0.0016), (322, -0.0013), (326, -0.0060), (331, -0.0119), (336, -0.0160),
             (340, -0.0177), (344, -0.0171), (348, -0.0148), (352, -0.0107), (358, -0.0066), (364, -0.0042),
             (372, -0.0027), (380, -0.0020), (385, -0.0013), (392, -0.0007), (400, -0.0004), (410, 0),
             (420, -0.0004), (430, 0.0001), (440, 0.0005), (450, -0.0010), (455, -0.0025), (459, -0.0034),
             (463, -0.0015), (467, 0.0016), (471, 0.0063), (475, 0.0081), (479, 0.0069), (483, 0.0052),
             (487, 0.0034), (491, 0.0028), (495, 0.0016), (499, -0.0013), (503, -0.0048), (507, -0.0066),
             (510, -0.0066), (514, -0.0036), (518, -0.0007), (522, 0.0011), (527, 0.0011), (532, -0.0004),
             (538, -0.0022), (544, -0.0036), (550, -0.0053), (555, -0.0070), (560, -0.0086), (564, -0.0101),
             (567, -0.0095), (570, -0.0077), (575, -0.0054), (580, -0.0036), (585, -0.0025), (590, -0.0025),
             (595, -0.0030), (600, -0.0036), (605, -0.0030), (610, -0.0022), (615, -0.0022), (620, -0.0034),
             (625, -0.0058), (630, -0.0083), (635, -0.0119), (640, -0.0148), (643, -0.0153), (646, -0.0130),
             (650, -0.0101), (655, -0.0060), (660, 0), (663, 0.0058), (666, 0.0081), (670, 0.0063),
             (674, 0.0040), (678, 0.0022), (684, 0.0013), (690, 0.0013), (694, 0.0008), (697, -0.0022),
             (700, -0.0049), (704, -0.0052), (710, -0.0046), (718, -0.0046), (725, -0.0048), (733, -0.0054),
             (738, -0.0052), (744, -0.0036), (750, -0.0019), (756, -0.0011), (765, -0.0006), (780, -0.0004),
             (836, 0)]

filt_lightblue = [(0, 0), (100, 0), (105, -0.0008), (110, -0.0015), (114, -0.0030), (118, -0.0040),
                  (122, -0.0035), (126, -0.0005), (130, 0.0065), (133, 0.0110), (136, 0.0105), (140, 0.0085),
                  (145, 0.0055), (150, 0.0025), (155, -0.0003), (160, -0.0040), (165, -0.0072), (168, -0.0085),
                  (171, -0.0055), (175, 0.0025), (180, 0.0060), (186, 0.0060), (192, 0.0055), (198, 0.0052),
                  (204, 0.0048), (208, 0.0038), (212, 0.0020), (217, -0.0015), (222, -0.0035), (228, -0.0036),
                  (238, -0.0032), (243, -0.0040), (248, -0.0070), (252, -0.0105), (255, -0.0125),
                  (258, -0.0100), (261, -0.0052), (265, -0.0015), (270, -0.0003), (278, -0.0005),
                  (284, -0.0015), (290, -0.0036), (294, -0.0046), (298, -0.0033), (302, -0.0020), (306, 0),
                  (310, 0.0042), (314, 0.0082), (317, 0.0076), (320, 0.0048), (325, 0.0003), (330, -0.0028),
                  (336, -0.0046), (340, -0.0058), (344, -0.0058), (348, -0.0040), (352, -0.0010),
                  (356, -0.0003), (386, 0), (400, 0.0005), (412, 0.0008), (420, 0.0002), (428, 0.0012),
                  (437, 0.0022), (445, 0.0005), (454, -0.0022), (462, 0.0002), (467, 0.0030), (471, 0.0064),
                  (474, 0.0072), (478, 0.0060), (486, 0.0033), (494, 0.0018), (498, -0.0003), (502, -0.0040),
                  (508, -0.0095), (511, -0.0080), (514, -0.0025), (520, 0.0032), (530, 0.0025), (540, 0.0014),
                  (552, 0.0003), (560, -0.0033), (565, -0.0082), (568, -0.0068), (572, -0.0030),
                  (580, -0.0004), (590, 0.0006), (595, 0.0014), (601, -0.0001), (604, -0.0015),
                  (612, -0.0008), (622, -0.0028), (633, -0.0052), (640, -0.0082), (643, -0.0072),
                  (651, -0.0006), (657, 0.0042), (663, 0.0084), (666, 0.0072), (674, 0.0025), (682, 0.0014),
                  (690, 0.0016), (697, -0.0013), (700, -0.0045), (703, -0.0058), (707, -0.0043),
                  (717, -0.0043), (727, -0.0048), (733, -0.0058), (741, -0.0048), (746, -0.0022),
                  (755, -0.0002), (836, 0)]

filt_blue = [(0, 0), (100, 0.0001), (105, -0.0007), (110, -0.0013), (114, -0.0025), (118, -0.0036),
             (122, -0.0030), (126, 0), (130, 0.0069), (133, 0.0104), (136, 0.0104), (140, 0.0087),
             (145, 0.0058), (150, 0.0028), (155, 0), (160, -0.0036), (165, -0.0066), (168, -0.0077),
             (171, -0.0048), (175, 0.0028), (180, 0.0063), (186, 0.0063), (192, 0.0058), (198, 0.0055),
             (204, 0.0052), (208, 0.0040), (212, 0.0022), (217, -0.0013), (222, -0.0030), (228, -0.0034),
             (233, -0.0030), (238, -0.0027), (243, -0.0036), (248, -0.0066), (252, -0.0101), (255, -0.0119),
             (258, -0.0095), (261, -0.0048), (265, -0.0013), (270, 0), (278, -0.0004), (284, -0.0013),
             (290, -0.0034), (294, -0.0042), (298, -0.0030), (302, -0.0019), (306, 0), (310, 0.0046),
             (314, 0.0087), (317, 0.0081), (320, 0.0052), (325, 0.0005), (330, -0.0025), (336, -0.0042),
             (340, -0.0054), (344, -0.0054), (348, -0.0036), (352, -0.0007), (356, 0), (386, 0), (395, 0.0001),
             (398, 0.0011), (401, 0.0013), (404, 0.0005), (408, 0), (412, 0.0011), (416, 0.0016), (420, 0.0005),
             (425, 0), (428, 0.0013), (432, 0.0022), (437, 0.0025), (441, 0.0016), (445, 0.0005),
             (450, -0.0007), (454, -0.0019), (458, -0.0015), (462, 0.0005), (467, 0.0034), (471, 0.0067),
             (474, 0.0075), (478, 0.0063), (482, 0.0048), (486, 0.0036), (490, 0.0034), (494, 0.0022),
             (498, 0), (502, -0.0036), (506, -0.0072), (508, -0.0089), (511, -0.0072), (514, -0.0025),
             (517, 0.0011), (520, 0.0034), (525, 0.0036), (530, 0.0028), (535, 0.0022), (540, 0.0016),
             (546, 0.0011), (552, 0.0005), (556, -0.0007), (560, -0.0030), (563, -0.0060), (565, -0.0077),
             (568, -0.0060), (572, -0.0030), (576, -0.0013), (580, -0.0004), (585, 0.0005), (590, 0.0008),
             (595, 0.0016), (598, 0.0011), (601, 0), (604, -0.0013), (607, -0.0011), (612, -0.0007),
             (617, -0.0013), (622, -0.0025), (628, -0.0036), (633, -0.0048), (637, -0.0066), (640, -0.0077),
             (643, -0.0066), (647, -0.0036), (651, -0.0007), (654, 0.0016), (657, 0.0046), (660, 0.0069),
             (663, 0.0087), (666, 0.0075), (670, 0.0052), (674, 0.0028), (678, 0.0016), (686, 0.0016),
             (690, 0.0020), (694, 0.0011), (697, -0.0013), (700, -0.0041), (703, -0.0054), (707, -0.0040),
             (712, -0.0036), (717, -0.0040), (722, -0.0042), (727, -0.0046), (733, -0.0054), (737, -0.0058),
             (741, -0.0048), (746, -0.0025), (750, -0.0007), (755, 0), (836, 0)]

filt_purple = [(0, -0.0007), (30, -0.0010), (60, -0.0010), (85, -0.0007), (92, 0.0005), (96, 0.0022),
               (98, 0.0055), (100, 0.0040), (103, -0.0007), (106, -0.0019), (110, -0.0013), (114, -0.0060),
               (117, -0.0154), (119, -0.0212), (122, -0.0200), (125, -0.0154), (128, -0.0107), (130, 0.0022),
               (132, 0.0234), (134, 0.0386), (136, 0.0415), (138, 0.0398), (142, 0.0327), (147, 0.0234),
               (152, 0.0140), (156, 0.0058), (160, -0.0060), (163, -0.0177), (166, -0.0330), (168, -0.0400),
               (170, -0.0378), (172, -0.0200), (174, 0), (176, 0.0151), (179, 0.0257), (182, 0.0296),
               (186, 0.0280), (190, 0.0263), (196, 0.0251), (202, 0.0228), (207, 0.0198), (211, 0.0128),
               (214, 0.0046), (218, -0.0048), (222, -0.0130), (226, -0.0165), (230, -0.0148), (235, -0.0119),
               (240, -0.0107), (245, -0.0113), (250, -0.0177), (253, -0.0353), (256, -0.0506), (258, -0.0559),
               (260, -0.0471), (263, -0.0271), (266, -0.0083), (270, 0.0022), (275, 0.0022), (280, 0.0005),
               (285, -0.0060), (288, -0.0142), (291, -0.0171), (294, -0.0119), (297, -0.0048), (301, -0.0013),
               (305, 0.0058), (308, 0.0245), (311, 0.0357), (313, 0.0386), (316, 0.0363), (319, 0.0234),
               (322, 0.0093), (325, 0.0022), (330, -0.0060), (335, -0.0154), (339, -0.0212), (343, -0.0230),
               (347, -0.0189), (350, -0.0107), (355, -0.0025), (358, 0.0022), (362, 0.0040), (367, 0.0022),
               (372, -0.0025), (377, -0.0036), (382, -0.0034), (387, 0), (392, 0.0016), (397, 0.0034),
               (401, 0.0052), (405, 0.0081), (409, 0.0046), (413, 0.0005), (417, 0.0034), (421, 0.0104),
               (424, 0.0122), (428, 0.0081), (432, 0), (436, 0.0005), (440, 0.0069), (444, 0.0128),
               (448, 0.0140), (452, 0.0116), (456, 0.0093), (460, 0.0022), (464, -0.0072), (467, -0.0101),
               (470, -0.0060), (474, 0.0022), (478, 0.0163), (482, 0.0269), (485, 0.0322), (488, 0.0339),
               (491, 0.0315), (495, 0.0245), (499, 0.0175), (503, 0.0134), (507, 0.0128), (511, 0.0087),
               (515, 0), (518, -0.0095), (521, -0.0236), (524, -0.0389), (526, -0.0441), (528, -0.0400),
               (531, -0.0177), (534, 0.0022), (537, 0.0104), (540, 0.0151), (544, 0.0134), (548, 0.0093),
               (552, 0.0063), (556, 0.0046), (560, 0.0028), (564, 0.0011), (567, -0.0036), (570, -0.0142),
               (573, -0.0295), (575, -0.0365), (577, -0.0330), (580, -0.0177), (583, -0.0036), (586, -0.0013),
               (589, 0.0022), (592, 0.0069), (594, 0.0087), (596, 0.0034), (599, -0.0036), (602, -0.0072),
               (604, -0.0036), (608, 0.0011), (611, 0.0058), (613, 0.0063), (616, 0.0034), (620, -0.0013),
               (625, -0.0048), (630, -0.0089), (635, -0.0130), (638, -0.0200), (641, -0.0330), (643, -0.0353),
               (645, -0.0271), (647, -0.0130), (650, 0), (653, 0.0016), (656, 0.0022), (659, 0.0104),
               (661, 0.0269), (663, 0.0386), (665, 0.0415), (667, 0.0398), (670, 0.0327), (674, 0.0234),
               (677, 0.0128), (680, 0.0046), (683, 0.0052), (686, 0.0075), (690, 0.0075), (693, 0.0093),
               (695, 0.0069), (697, -0.0025), (699, -0.0130), (701, -0.0189), (703, -0.0200), (705, -0.0165),
               (708, -0.0083), (712, -0.0095), (716, -0.0112), (720, -0.0101), (723, -0.0101), (727, -0.0112),
               (731, -0.0136), (735, -0.0177), (739, -0.0224), (742, -0.0248), (745, -0.0236), (749, -0.0165),
               (752, -0.0095), (755, -0.0036), (759, -0.0007), (765, 0), (830, 0), (833, -0.0013),
               (836, -0.0036)]

filt_pink = [(0, -0.0005), (95, -0.0005), (98, 0.0005), (100, 0), (104, -0.0013), (108, -0.0025),
             (112, -0.0025), (116, -0.0060), (119, -0.0095), (122, -0.0066), (125, -0.0025), (127, 0.0022),
             (129, 0.0292), (130.5, 0.0457), (132, 0.0374), (134, 0.0187), (136, 0.0104), (140, 0.0058),
             (145, 0.0022), (150, -0.0013), (155, -0.0048), (160, -0.0083), (165, -0.0119), (168, -0.0130),
             (171, -0.0107), (174, 0), (177, 0.0058), (180, 0.0052), (185, 0.0034), (195, 0.0028),
             (205, 0.0022), (210, 0.0005), (215, 0), (220, -0.0007), (230, -0.0013), (240, -0.0025),
             (245, -0.0036), (250, -0.0060), (254, -0.0107), (256, -0.0130), (258, -0.0060), (260, 0.0234),
             (261.5, 0.0515), (263, 0.0386), (265, 0.0198), (268, 0.0058), (272, 0.0028), (278, 0.0011),
             (283, 0), (288, -0.0013), (292, -0.0019), (296, 0), (300, 0), (303, 0.0022), (306, 0.0093),
             (309, 0.0107), (312, 0.0093), (316, 0.0058), (320, 0.0022), (325, 0.0005), (330, 0),
             (340, -0.0007), (346, -0.0007), (352, 0.0011), (358, 0.0016), (364, 0.0011), (370, 0),
             (380, -0.0004), (386, 0), (390, 0.0014), (397, 0.0016), (401, 0.0081), (403, 0.0140),
             (405, 0.0058), (408, 0.0011), (412, 0.0016), (415, 0.0025), (420, 0.0005), (425, 0),
             (430, 0.0022), (435, 0.0020), (440, 0.0022), (445, 0.0011), (450, 0.0005), (455, -0.0007),
             (460, -0.0025), (463, -0.0013), (467, 0.0011), (471, 0.0040), (475, 0.0063), (480, 0.0052),
             (485, 0.0034), (490, 0.0022), (495, 0.0016), (500, 0.0016), (505, 0.0005), (510, -0.0036),
             (513, -0.0083), (516, -0.0124), (518, -0.0130), (521, -0.0095), (524, 0.0104), (526, 0.0187),
             (528, 0.0175), (530, 0.0104), (533, 0.0046), (537, 0.0028), (545, 0.0022), (555, 0.0016),
             (565, 0.0011), (570, -0.0036), (573, -0.0083), (575, -0.0095), (578, -0.0060), (581, -0.0025),
             (585, 0), (589, 0.0011), (593, 0.0022), (596, 0.0292), (598, 0.0586), (599.5, 0.0662),
             (601, 0.0586), (603, 0.0292), (606, 0.0058), (610, 0.0016), (615, 0.0016), (620, 0.0011),
             (625, 0), (630, -0.0013), (635, -0.0036), (638, -0.0066), (641, -0.0072), (643, -0.0036),
             (646, 0), (650, 0.0016), (655, 0.0022), (658, 0.0046), (660, 0.0104), (661, 0.0122),
             (663, 0.0087), (666, 0.0034), (670, 0.0022), (675, 0.0005), (680, -0.0013), (684, 0.0005),
             (688, 0.0016), (692, 0.0016), (695, 0.0005), (698, -0.0025), (700, -0.0060), (703, -0.0036),
             (706, -0.0025), (715, -0.0019), (725, -0.0025), (730, -0.0036), (735, -0.0052), (740, -0.0048),
             (745, -0.0030), (750, -0.0007), (755, 0.0001), (836, 0)]

# ---- log F0, (frame, value) ----
lf0_orig = [(0, 5.015), (100, 5.015), (101.7, 5.196), (103.3, 4.893), (104.2, 4.938), (105.5, 4.964),
            (107, 4.977), (109, 4.990), (110.3, 4.970), (112, 4.977), (113.3, 4.950), (115.3, 4.950),
            (117.5, 4.930), (118.6, 4.870), (120, 4.757), (120.8, 4.719), (122, 4.686), (122.8, 4.757),
            (123.6, 4.860), (125, 4.886), (125.8, 4.930), (126.7, 4.860), (127.5, 4.719), (128.6, 4.886),
            (130, 4.912), (131, 5.093), (131.7, 5.155), (132.5, 5.003), (134, 4.977), (136, 4.957),
            (139, 4.938), (141.7, 4.919), (144.4, 4.893), (147, 4.900), (150, 4.880), (152.8, 4.854),
            (155.5, 4.874), (158.3, 4.861), (161, 4.822), (163.9, 4.783), (165.8, 4.706), (168, 4.654),
            (170, 4.603), (171.4, 4.590), (172.8, 4.538), (173.6, 4.654), (175, 4.809), (176.4, 4.900),
            (178.3, 4.945), (180.5, 4.957), (183.3, 4.930), (186, 4.900), (189, 4.874), (193, 4.867),
            (197, 4.854), (201, 4.841), (205.5, 4.828), (208, 4.803), (212.5, 4.790), (215, 4.770),
            (218, 4.786), (221, 4.751), (225, 4.773), (229, 4.751), (234.7, 4.732), (237.5, 4.693),
            (241.7, 4.661), (245.8, 4.635), (248.6, 4.622), (251.4, 4.577), (253.6, 4.538), (255.6, 4.415),
            (257.5, 4.467), (259, 4.486), (261, 4.603), (263, 4.674), (265.3, 4.686), (267.5, 4.654),
            (270, 4.641), (273.6, 4.603), (277.8, 4.603), (282, 4.590), (286, 4.577), (290, 4.570),
            (293, 4.577), (297, 4.590), (301, 4.616), (304, 4.641), (307.5, 4.783), (311, 4.900),
            (314, 4.964), (318, 5.009), (321, 5.018), (324, 5.009), (327.8, 4.964), (330.6, 4.886),
            (333, 4.809), (336, 4.680), (339, 4.577), (341.7, 4.435), (344.4, 4.422), (347, 4.319),
            (350, 4.286), (410.5, 4.467), (412.6, 4.551), (414, 4.557), (415.6, 4.448), (417, 4.580),
            (418.6, 4.440), (420, 4.460), (421.6, 4.654), (423.7, 4.732), (425.4, 4.764), (427.5, 4.745),
            (430.5, 4.732), (435, 4.719), (438, 4.706), (441, 4.680), (444, 4.674), (450, 4.667),
            (454.5, 4.635), (457.5, 4.616), (462, 4.628), (466.5, 4.635), (471, 4.641), (474, 4.667),
            (477, 4.686), (481.4, 4.699), (486, 4.745), (490.4, 4.770), (493.4, 4.783), (498, 4.764),
            (502.4, 4.732), (506.3, 4.706), (507.8, 4.616), (509.3, 4.732), (511.4, 4.751), (514.4, 4.751),
            (516, 4.783), (519, 4.719), (522, 4.699), (525, 4.641), (528, 4.551), (530, 4.461),
            (531.4, 4.525), (533.8, 4.680), (536, 4.783), (540, 4.828), (544, 4.848), (547.3, 4.852),
            (551.8, 4.837), (556, 4.828), (559, 4.809), (562, 4.777), (565, 4.725), (568, 4.712),
            (571, 4.693), (572.8, 4.641), (574, 4.680), (576, 4.616), (577, 4.551), (579, 4.306),
            (591.6, 4.912), (593, 4.886), (594.3, 4.900), (596.7, 4.783), (599, 4.680), (600.6, 4.603),
            (602.7, 4.590), (605.7, 4.577), (608, 4.538), (609.6, 4.512), (611, 4.538), (613, 4.564),
            (614.7, 4.474), (617.7, 4.467), (622, 4.467), (624, 4.461), (628, 4.480), (631, 4.493),
            (635.6, 4.506), (637.7, 4.486), (640, 4.422), (641.6, 4.396), (665.6, 4.886), (666.5, 4.957),
            (667.7, 4.861), (670, 4.835), (673, 4.809), (676, 4.732), (678.4, 4.661), (680, 4.654),
            (681.4, 4.809), (682.6, 4.835), (683.5, 4.738), (685, 4.822), (686.5, 4.745), (688, 4.816),
            (689.5, 4.757), (691, 4.783), (694, 4.706), (695.5, 4.719), (697, 4.783), (698.5, 4.770),
            (700, 4.628), (701.5, 4.525), (703, 4.435), (704.5, 4.422), (707, 4.370), (709, 4.357),
            (836, 4.357)]

lf0_pred = [(0, 4.729), (10, 4.729), (20, 4.744), (40, 4.783), (60, 4.809), (80, 4.822), (95, 4.841),
            (100, 4.850), (105, 4.828), (112, 4.822), (118, 4.764), (121, 4.751), (125, 4.783), (128, 4.809),
            (131, 5.041), (134, 5.112), (137, 5.093), (142, 5.028), (150, 4.938), (158, 4.861), (163, 4.783),
            (168, 4.693), (171, 4.700), (175, 4.874), (180, 4.951), (185, 4.957), (192, 4.974), (197, 4.974),
            (205, 4.945), (215, 4.886), (222, 4.809), (228, 4.719), (235, 4.680), (245, 4.641), (252, 4.551),
            (255.5, 4.474), (258, 4.551), (261, 4.693), (263, 4.712), (270, 4.693), (280, 4.674),
            (288, 4.641), (292, 4.622), (298, 4.654), (305, 4.706), (310, 4.783), (315, 4.841), (318, 4.828),
            (322, 4.783), (330, 4.693), (338, 4.603), (344, 4.570), (349, 4.590), (355, 4.667), (362, 4.693),
            (372, 4.700), (380, 4.715), (385, 4.730), (392, 4.764), (398, 4.790), (402, 4.816), (406, 4.796),
            (410, 4.770), (415, 4.770), (420, 4.790), (425, 4.816), (430, 4.796), (436, 4.770), (442, 4.793),
            (448, 4.816), (454, 4.809), (460, 4.777), (466, 4.732), (470, 4.719), (475, 4.757), (480, 4.809),
            (485, 4.867), (489, 4.886), (494, 4.867), (500, 4.822), (507, 4.783), (515, 4.751), (520, 4.706),
            (526, 4.603), (529, 4.564), (533, 4.641), (537, 4.745), (542, 4.764), (548, 4.748), (555, 4.725),
            (565, 4.706), (570, 4.680), (575, 4.603), (578, 4.551), (581, 4.590), (586, 4.654), (590, 4.693),
            (593, 4.822), (596, 4.757), (599, 4.680), (603, 4.654), (607, 4.680), (613, 4.693), (618, 4.680),
            (625, 4.641), (632, 4.609), (637, 4.577), (640, 4.532), (643, 4.538), (647, 4.616), (652, 4.667),
            (658, 4.732), (664, 4.828), (667, 4.809), (672, 4.783), (676, 4.732), (680, 4.706), (686, 4.699),
            (692, 4.686), (696, 4.667), (699, 4.616), (703, 4.564), (708, 4.583), (714, 4.583), (719, 4.577),
            (727, 4.570), (735, 4.570), (742, 4.551), (748, 4.590), (753, 4.628), (758, 4.674), (765, 4.693),
            (775, 4.706), (790, 4.712), (805, 4.716), (820, 4.719), (832, 4.719), (836, 4.712)]

commands = [cmd_red, cmd_orange, cmd_lime, cmd_green, cmd_teal, cmd_lightblue, cmd_blue, cmd_purple, cmd_pink]
filtered = [filt_red, filt_orange, filt_lime, filt_green, filt_teal, filt_lightblue, filt_blue, filt_purple, filt_pink]

LABEL_SIZE = 16.7
TICK_SIZE = 10.4


def xy(pts):
    xs, ys = zip(*pts)
    return list(xs), list(ys)


def shade(ax, spans, hatch):
    first = None
    for a, b in spans:
        p = ax.axvspan(a, b, facecolor="none", edgecolor=HATCH_GRAY, hatch=hatch, lw=1.0, zorder=0)
        if first is None:
            first = p
    return first


plt.rcParams["hatch.linewidth"] = 1.0
fig, (ax1, ax2, ax3) = plt.subplots(3, 1, sharex=True, figsize=(13.48, 8.585), dpi=200)
fig.subplots_adjust(left=0.0976, right=0.987, top=0.9097, bottom=0.066, hspace=0.29)

# command panel
shade(ax1, unvoiced_model, "//")
handles = []
for pts, c in zip(commands, COLORS):
    x, y = xy(pts)
    (ln,) = ax1.plot(x, y, color=c, lw=1.5)
    handles.append(ln)
ax1.axhline(0, color="k", ls=":", lw=1.2, zorder=5)
ax1.set_ylim(-0.0228, 0.0514)
ax1.set_yticks([-0.02, 0.0, 0.02, 0.04])
ax1.set_ylabel("command", fontsize=LABEL_SIZE)
ax1.legend(handles, [r"$\theta$=" + t for t in THETAS], loc="lower left", bbox_to_anchor=(0, 0.983),
           ncol=9, frameon=False, borderaxespad=0, fontsize=10.5, columnspacing=2.0)

# filtered panel
uv = shade(ax2, unvoiced_model, "//")
for i, (pts, c) in enumerate(zip(filtered, COLORS)):
    x, y = xy(pts)
    ax2.plot(x, y, color=c, lw=1.5, ls="-." if i == 0 else "-")
ax2.axhline(0, color="k", ls=":", lw=1.2, zorder=5)
ax2.set_ylim(-0.070, 0.0727)
ax2.set_yticks([-0.05, -0.025, 0.0, 0.025, 0.05])
ax2.set_ylabel("filtered", fontsize=LABEL_SIZE)
ax2.legend([uv], ["Unvoiced"], loc="lower left", bbox_to_anchor=(0, 0.988), frameon=False,
           borderaxespad=0, fontsize=LABEL_SIZE)

# LF0 panel
ref = shade(ax3, unvoiced_ref, "\\\\")
x, y = xy(lf0_orig)
(l_orig,) = ax3.plot(x, y, color="#d62728", lw=1.5)
x, y = xy(lf0_pred)
(l_pred,) = ax3.plot(x, y, color="#2ca02c", lw=1.5, ls="-.")
ax3.set_ylim(4.076, 5.45)
ax3.set_yticks([4.2, 4.4, 4.6, 4.8, 5.0, 5.2, 5.4])
ax3.set_ylabel(r"$LF_0$", fontsize=LABEL_SIZE)
ax3.set_xlabel("frames [5 ms]", fontsize=LABEL_SIZE)
ax3.legend([l_orig, l_pred, ref], ["Original", "Predicted", "Reference unvoiced"], loc="lower left",
           bbox_to_anchor=(0, 0.992), ncol=3, frameon=False, borderaxespad=0, fontsize=LABEL_SIZE)

ax3.set_xlim(0, FRAMES_MAX)
ax3.set_xticks(range(0, 900, 100))
for ax in (ax1, ax2, ax3):
    ax.tick_params(labelsize=TICK_SIZE)

fig.suptitle("Trained model behaviour", x=0.506, y=0.966, va="center", fontsize=24,
             fontfamily="Liberation Serif", style="italic")

plt.savefig("out.png", dpi=200)
